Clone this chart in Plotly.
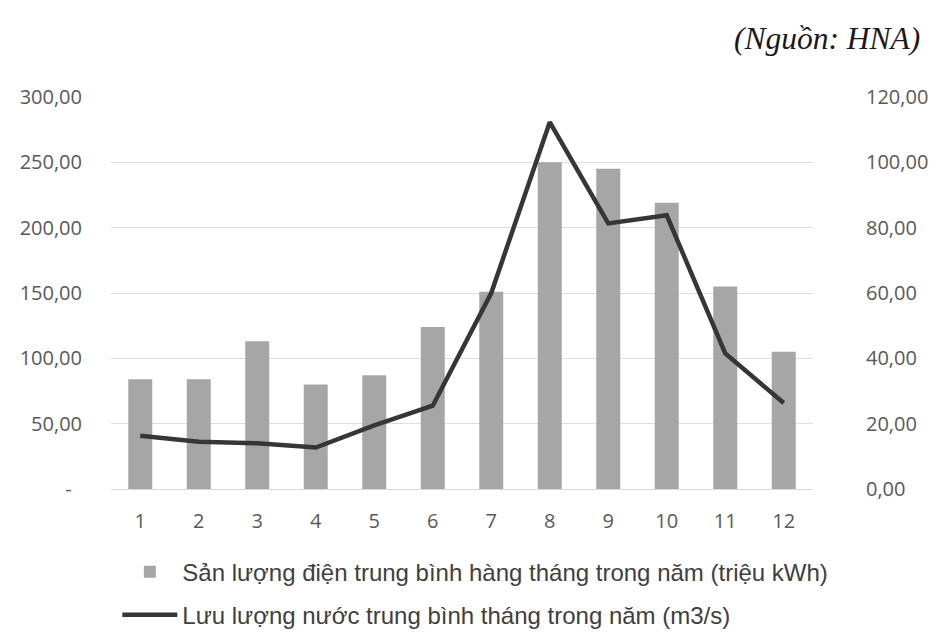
import plotly.graph_objects as go

months = [str(i) for i in range(1, 13)]
electricity = [84, 84, 113, 80, 87, 124, 151, 250, 245, 219, 155, 105]
flow = [16.3, 14.5, 14.0, 12.7, 19.5, 25.5, 60.0, 112.3, 81.3, 83.8, 41.5, 26.3]
left_ticks = [0, 50, 100, 150, 200, 250, 300]
left_labels = ["-\u00a0\u00a0", "50,00", "100,00", "150,00", "200,00", "250,00", "300,00"]
right_ticks = [0, 20, 40, 60, 80, 100, 120]
right_labels = ["0,00", "20,00", "40,00", "60,00", "80,00", "100,00", "120,00"]

bar_name = "Sản lượng điện trung bình hàng tháng trong năm (triệu kWh)"
line_name = "Lưu lượng nước trung bình tháng trong năm (m3/s)"

fig = go.Figure()
fig.add_trace(go.Bar(
    x=months, y=electricity, name=bar_name, yaxis="y",
    marker=dict(color="#a6a6a6", line=dict(width=0)),
    legendgroup="a",
))
fig.add_trace(go.Scatter(
    x=months, y=flow, name=line_name, yaxis="y2", mode="lines",
    line=dict(color="#363636", width=4.5),
    legendgroup="b",
))

tick_font = dict(family="Open Sans, Lato, sans-serif", size=20, color="#595959")

fig.update_layout(
    width=937, height=633,
    margin=dict(l=103, r=132, t=89, b=152),
    paper_bgcolor="white", plot_bgcolor="white",
    bargap=0.59,
    showlegend=True,
    legend=dict(
        x=0.009, y=0.1445, xanchor="left", yanchor="top", yref="container",
        orientation="v", traceorder="grouped", tracegroupgap=9,
        itemwidth=55,
        font=dict(family="Liberation Sans, Arial, sans-serif", size=24, color="#404040"),
        bgcolor="rgba(0,0,0,0)",
    ),
    xaxis=dict(
        type="category", showgrid=False, zeroline=False,
        showline=True, linecolor="#d9d9d9", linewidth=1,
        ticks="outside", ticklen=14, tickcolor="rgba(0,0,0,0)",
        tickfont=tick_font,
    ),
    yaxis=dict(
        range=[0, 300], tickvals=left_ticks, ticktext=left_labels,
        showgrid=True, gridcolor="#dedede", gridwidth=1, zeroline=False,
        tickfont=tick_font, ticks="outside", ticklen=24, tickcolor="rgba(0,0,0,0)",
    ),
    yaxis2=dict(
        range=[0, 120], tickvals=right_ticks, ticktext=right_labels,
        overlaying="y", side="right", showgrid=False, zeroline=False,
        tickfont=tick_font, ticks="outside", ticklen=48, tickcolor="rgba(0,0,0,0)",
    ),
    annotations=[dict(
        text="<i>(Nguồn: HNA)</i>", xref="paper", yref="paper",
        x=1.155, y=1.15, xanchor="right", yanchor="middle", showarrow=False,
        font=dict(family="Liberation Serif, Times New Roman, serif", size=31.5, color="#1a1a1a"),
    )],
)

fig.write_html("out.html")
